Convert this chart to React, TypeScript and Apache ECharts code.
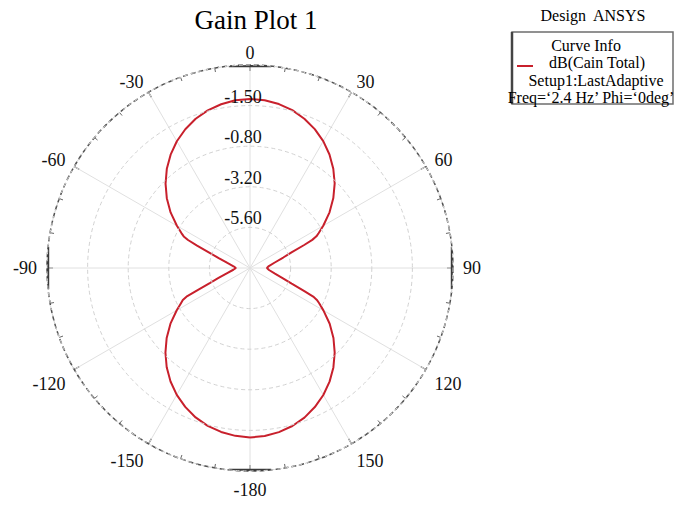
import React, { useEffect, useRef } from "react";
import * as echarts from "echarts";

// Gain pattern sweep: theta in degrees (0 = top, clockwise) and gain in dB
const thetaDeg = [
  -180, -175, -170, -165, -160, -155, -150, -145, -140, -135, -130, -125, -120,
  -117, -115.5, -114.3, -113, -110.5, -107.5, -102.5, -96, -90, -84, -77.5, -72.5,
  -69.5, -67, -65.7, -64.5, -63, -60, -55, -50, -45, -40, -35, -30, -25, -20, -15,
  -10, -5, 0, 5, 10, 15, 20, 25, 30, 35, 40, 45, 50, 55, 60, 63, 64.5, 65.7, 67,
  69.5, 72.5, 77.5, 84, 90, 96, 102.5, 107.5, 110.5, 113, 114.3, 115.5, 117, 120,
  125, 130, 135, 140, 145, 150, 155, 160, 165, 170, 175, 180,
];
const gainDb = [
  2.02, 1.96, 1.84, 1.66, 1.4, 1.06, 0.66, 0.19, -0.34, -0.93, -1.57, -2.26, -3.0,
  -3.42, -3.6, -3.88, -4.58, -5.46, -6.05, -6.62, -7.01, -7.17, -7.02, -6.63, -6.06,
  -5.48, -4.6, -3.98, -3.66, -3.45, -3.01, -2.27, -1.58, -0.94, -0.35, 0.18, 0.65,
  1.05, 1.39, 1.65, 1.83, 1.95, 1.99, 1.95, 1.84, 1.66, 1.39, 1.06, 0.66, 0.19,
  -0.34, -0.92, -1.57, -2.26, -3.0, -3.44, -3.65, -3.96, -4.52, -5.38, -5.94, -6.5,
  -6.88, -7.0, -6.87, -6.49, -5.93, -5.37, -4.51, -3.9, -3.62, -3.41, -2.99, -2.25,
  -1.56, -0.92, -0.33, 0.2, 0.67, 1.07, 1.41, 1.67, 1.85, 1.97, 2.02,
];

// Radial scale (dB) and the texts printed on its rings
const radialMin = -8;
const radialMax = 4;
const radialStep = 2.4;
const radialRings = [-5.6, -3.2, -0.8, 1.6];
const radialLabels = ["-5.60", "-3.20", "-0.80", "-1.50"];

// Angle tick labels sitting above the horizontal diameter
const upperAngleTicks = [300, 330, 0, 30, 60];

// Cardinal directions marked with a heavier bar on the outer ring
const cardinalAngles = [0, 90, 180, 270];

const titleText = "Gain Plot 1";
const designText = "Design  ANSYS";
const legendLines = [
  "Curve Info",
  "dB(Cain Total)",
  "Setup1:LastAdaptive",
  "Freq=\u20182.4 Hz\u2019 Phi=\u20180deg\u2019",
];

const SERIF = '"Liberation Serif", "Times New Roman", serif';

const wrapAngle = (a: number) => (a < 0 ? a + 360 : a);

export default function App() {
  const ref = useRef<HTMLDivElement>(null);

  useEffect(() => {
    document.body.style.margin = "0";
    if (!ref.current) return;
    const chart = echarts.init(ref.current, null, { renderer: "svg" });

    const curve = thetaDeg.map((t, i) => [gainDb[i], wrapAngle(t)]);

    const barSeries = cardinalAngles.map((c) => ({
      type: "line",
      coordinateSystem: "polar",
      data: [
        [radialMax, wrapAngle(c - 6)],
        [radialMax, wrapAngle(c + 6)],
      ],
      showSymbol: false,
      silent: true,
      lineStyle: { color: "#3a3a3a", width: 2.2 },
      z: 4,
    }));

    chart.setOption({
      animation: false,
      textStyle: { fontFamily: SERIF },
      polar: { center: [250, 268], radius: 203 },
      angleAxis: {
        type: "value",
        min: 0,
        max: 360,
        interval: 30,
        startAngle: 90,
        clockwise: true,
        axisLine: {
          show: true,
          lineStyle: { color: "#505050", width: 1.5, type: [5, 3] },
        },
        axisTick: {
          show: true,
          inside: true,
          length: 6,
          lineStyle: { color: "#444", width: 1.2 },
        },
        minorTick: {
          show: true,
          splitNumber: 3,
          length: 4,
          lineStyle: { color: "#666", width: 1 },
        },
        axisLabel: {
          show: true,
          margin: 10,
          fontSize: 18,
          color: "#111",
          fontFamily: SERIF,
          formatter: (v: number) => {
            const txt = v === 180 ? "-180" : v > 180 ? String(v - 360) : String(v);
            return upperAngleTicks.includes(v) ? `{u|${txt}}` : txt;
          },
          rich: {
            u: { fontSize: 18, fontFamily: SERIF, color: "#111", lineHeight: 4 },
          },
        },
        splitLine: { show: true, lineStyle: { color: "#e0e0e0", width: 1 } },
      },
      radiusAxis: {
        type: "value",
        min: radialMin,
        max: radialMax,
        interval: radialStep,
        axisLine: { show: false },
        axisTick: { show: false },
        splitLine: {
          show: true,
          lineStyle: { color: "#d2d2d2", width: 1, type: [4, 3] },
        },
        axisLabel: {
          show: true,
          fontSize: 18,
          color: "#111",
          fontFamily: SERIF,
          align: "center",
          verticalAlign: "bottom",
          margin: 7,
          formatter: (v: number) => {
            const i = radialRings.findIndex((r) => Math.abs(r - v) < 1e-6);
            return i >= 0 ? radialLabels[i] : "";
          },
        },
        z: 10,
      },
      series: [
        {
          type: "line",
          coordinateSystem: "polar",
          data: curve,
          showSymbol: false,
          smooth: false,
          lineStyle: { color: "#c8202c", width: 2 },
          z: 3,
        },
        ...barSeries,
      ],
      graphic: [
        {
          type: "text",
          x: 256,
          y: 20,
          style: {
            text: titleText,
            font: `27px ${SERIF}`,
            fill: "#000",
            align: "center",
            verticalAlign: "middle",
          },
        },
        {
          type: "text",
          x: 593,
          y: 15,
          style: {
            text: designText,
            font: `16px ${SERIF}`,
            fill: "#000",
            align: "center",
            verticalAlign: "middle",
          },
        },
        {
          type: "rect",
          shape: { x: 512, y: 32, width: 161, height: 72 },
          style: { fill: "#fff", stroke: "#6e6e6e", lineWidth: 1.5 },
        },
        {
          type: "line",
          shape: { x1: 512, y1: 32, x2: 512, y2: 104 },
          style: { stroke: "#444", lineWidth: 2.5 },
        },
        {
          type: "line",
          shape: { x1: 517, y1: 66, x2: 533, y2: 66 },
          style: { stroke: "#c8202c", lineWidth: 2 },
        },
        ...legendLines.map((t, i) => ({
          type: "text",
          x: [586, 597, 596, 591][i],
          y: [45, 62, 80, 97][i],
          style: {
            text: t,
            font: `16px ${SERIF}`,
            fill: "#000",
            align: "center",
            verticalAlign: "middle",
          },
        })),
      ],
    });

    return () => chart.dispose();
  }, []);

  return <div ref={ref} style={{ width: 676, height: 506 }} />;
}
